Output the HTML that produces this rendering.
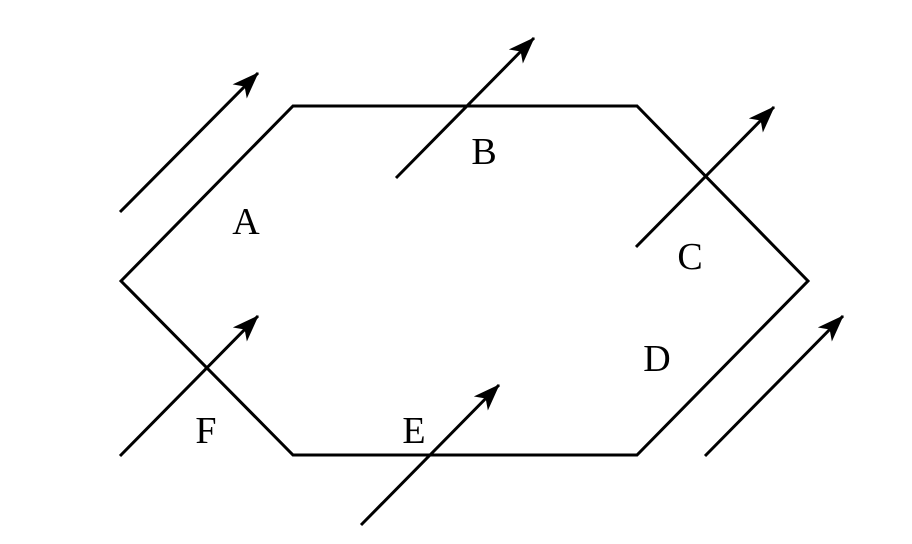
<!DOCTYPE html>
<html><head><style>body{margin:0;background:#fff}svg{display:block}</style></head><body>
<svg width="912" height="544" viewBox="0 0 912 544" xmlns="http://www.w3.org/2000/svg">
<defs><marker id="ah" markerWidth="30" markerHeight="22" refX="26" refY="10" orient="auto" markerUnits="userSpaceOnUse"><path d="M0,0 L27,10 L0,20 L7,10 Z" fill="#000"/></marker></defs>
<polygon points="121,281 293,106 637,106 808,281 637,455 293,455" fill="none" stroke="#000" stroke-width="3"/>
<g stroke="#000" stroke-width="3" marker-end="url(#ah)">
<line x1="120" y1="212" x2="258" y2="73"/>
<line x1="396" y1="178" x2="534" y2="38"/>
<line x1="636" y1="247" x2="774" y2="107"/>
<line x1="705" y1="456" x2="843" y2="316"/>
<line x1="361" y1="525" x2="499" y2="385"/>
<line x1="120" y1="456" x2="258" y2="316"/>
</g>
<g font-family="Liberation Serif, serif" font-size="38" text-anchor="middle">
<text x="246" y="234">A</text>
<text x="484" y="164">B</text>
<text x="690" y="269">C</text>
<text x="657" y="371">D</text>
<text x="414" y="443">E</text>
<text x="206" y="443">F</text>
</g>
</svg>
</body></html>
